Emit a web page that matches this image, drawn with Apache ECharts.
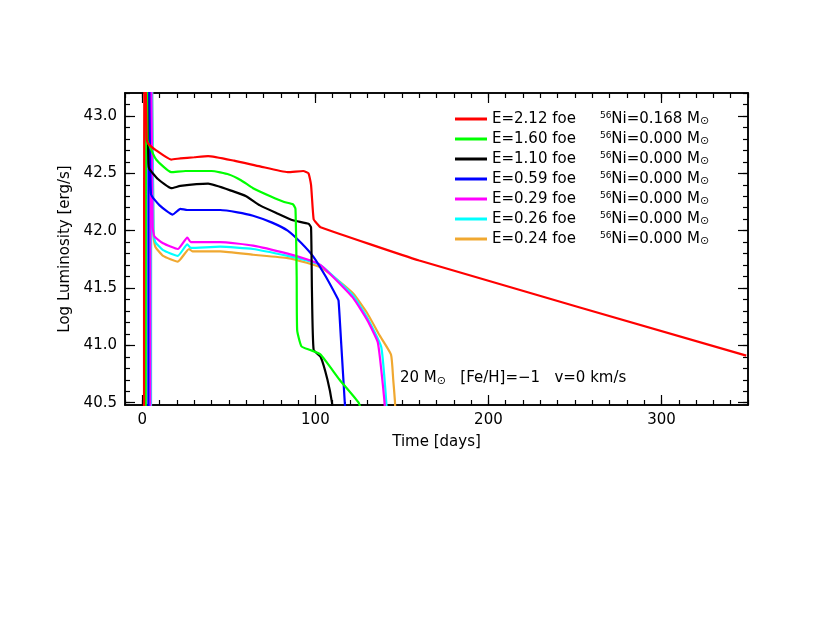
<!DOCTYPE html>
<html><head><meta charset="utf-8">
<script src="https://cdn.jsdelivr.net/npm/echarts@6/dist/echarts.min.js"></script>
<style>html,body{margin:0;background:#fff}#c{width:830px;height:623px}</style>
</head><body><div id="c"></div>
<script>
const energies = ['2.12','1.60','1.10','0.59','0.29','0.26','0.24'];
const nickel = ['0.168','0.000','0.000','0.000','0.000','0.000','0.000'];
const colors = ['#ff0000','#00ff00','#000000','#0000ff','#ff00ff','#00ffff','#f0a830'];
const red = [[1,40],[1.2,44],[2.5,42.8],[3.3,42.76],[8,42.7],[16.7,42.62],[22,42.63],[30,42.64],[38,42.65],[53,42.61],[68,42.56],[84,42.51],[93,42.52],[96,42.5],[97.5,42.4],[99,42.1],[101,42.06],[103,42.03],[160,41.74],[349,40.91]];
const green = [[2,40],[2.2,44],[3,42.8],[3.3,42.77],[8,42.62],[16.7,42.51],[25,42.52],[40,42.52],[50,42.49],[57,42.44],[64,42.37],[74,42.3],[82,42.25],[87,42.23],[88.5,42.19],[89.2,41.6],[89.5,41.13],[92,40.99],[97,40.96],[103,40.92],[114,40.7],[125,40.5],[127,40.4]];
const black = [[1.5,40],[1.7,44],[3.5,42.6],[4,42.54],[9,42.45],[16.7,42.37],[22,42.39],[38,42.41],[53,42.34],[60,42.3],[68,42.22],[78,42.15],[87,42.09],[96,42.06],[97.5,42.03],[98,41.5],[99,40.96],[103,40.9],[107,40.7],[109.6,40.5],[110,40.4]];
const blue = [[3.5,40],[3.7,44],[5,42.32],[10,42.22],[17.6,42.14],[22,42.19],[26,42.18],[45,42.18],[55,42.16],[64,42.13],[75,42.07],[84,42.0],[92,41.89],[99,41.77],[106,41.6],[112.5,41.42],[113.4,41.39],[115,41.0],[117,40.5],[117.5,40.4]];
const magenta = [[4.6,40],[4.8,44],[6,42.03],[7,41.95],[12,41.89],[20.5,41.84],[26,41.94],[28,41.9],[45,41.9],[64,41.87],[84,41.8],[95,41.75],[103,41.7],[112,41.57],[122,41.41],[130,41.22],[136,41.03],[138,40.8],[140,40.5],[140.2,40.4]];
const cyan = [[5,40],[5.2,44],[6.5,41.98],[7.5,41.9],[12,41.83],[20.5,41.78],[26,41.88],[28,41.85],[45,41.86],[64,41.84],[84,41.78],[95,41.74],[103,41.7],[112,41.58],[122,41.43],[130,41.24],[138,40.99],[140,40.7],[141,40.5],[141.2,40.4]];
const orange = [[5,40],[5.2,44],[6.5,41.95],[7.5,41.86],[12,41.78],[20.5,41.73],[27,41.84],[29,41.82],[45,41.82],[64,41.79],[84,41.76],[95,41.72],[103,41.68],[112,41.58],[122,41.45],[130,41.28],[137,41.09],[143.7,40.92],[145,40.7],[146,40.51],[146.2,40.4]];
const allData = [red,green,black,blue,magenta,cyan,orange];
const xMajor=[0,100,200,300];
const xMinor=[]; for(let v=-10;v<=350;v+=10) xMinor.push(v);
const yMajor=[40.5,41.0,41.5,42.0,42.5,43.0];
const yMinor=[]; for(let v=405;v<=432;v++) yMinor.push(v/10);

const F='DejaVu Sans';
const names = energies.map((e,i)=>'E='+e+' foe{g|}{s|56}Ni='+nickel[i]+' M{sun|⊙}');
function xa(pos,vals,len,labels){return {type:'value',min:-10,max:350,position:pos,
  axisLine:{show:true,onZero:false,lineStyle:{color:'#000',width:1.5}},splitLine:{show:false},
  axisTick:{inside:true,length:len,customValues:vals,lineStyle:{color:'#000',width:1.2}},
  axisLabel:{show:!!labels,customValues:vals,color:'#000',fontFamily:F,fontSize:15,margin:8},
  name:labels?'Time [days]':'',nameLocation:'middle',nameGap:30,nameTextStyle:{color:'#000',fontFamily:F,fontSize:15}};}
function ya(pos,vals,len,labels){return {type:'value',min:40.48,max:43.2,position:pos,
  axisLine:{show:true,onZero:false,lineStyle:{color:'#000',width:1.5}},splitLine:{show:false},
  axisTick:{inside:true,length:len,customValues:vals,lineStyle:{color:'#000',width:1.2}},
  axisLabel:{show:!!labels,customValues:vals,color:'#000',fontFamily:F,fontSize:15,margin:8,formatter:v=>v.toFixed(1)},
  name:labels?'Log Luminosity [erg/s]':'',nameLocation:'middle',nameGap:52,nameRotate:90,nameTextStyle:{color:'#000',fontFamily:F,fontSize:15}};}
const chart=echarts.init(document.getElementById('c'));
chart.setOption({
  animation:false,
  grid:{left:125,right:82,top:93,bottom:218},
  xAxis:[xa('bottom',xMajor,10,true),xa('bottom',xMinor,5,false),xa('top',xMajor,10,false),xa('top',xMinor,5,false)],
  yAxis:[ya('left',yMajor,10,true),ya('left',yMinor,5,false),ya('right',yMajor,10,false),ya('right',yMinor,5,false)],
  legend:{left:450,top:106,orient:'vertical',itemWidth:32,itemHeight:3,itemGap:4,icon:'rect',
    data:names,textStyle:{fontFamily:F,fontSize:15,color:'#000',
      rich:{g:{width:24},s:{fontSize:9,verticalAlign:'top',fontFamily:F,color:'#000',padding:[0,0,6,0]},sun:{fontSize:11,fontFamily:F,color:'#000',padding:[5,0,0,0]}}}},
  graphic:[{type:'text',left:400,top:371,style:{text:'20 M{sun|⊙}   [Fe/H]=−1   v=0 km/s',fontFamily:F,fontSize:15,fill:'#000',
    rich:{sun:{fontSize:11,fontFamily:F,fill:'#000',padding:[6,0,0,0]}}}}],
  series:allData.map((d,i)=>({type:'line',name:names[i],data:d,showSymbol:false,symbol:'none',clip:true,smooth:0.15,
    lineStyle:{color:colors[i],width:2.2},itemStyle:{color:colors[i]},z:10-i}))
});
</script></body></html>
